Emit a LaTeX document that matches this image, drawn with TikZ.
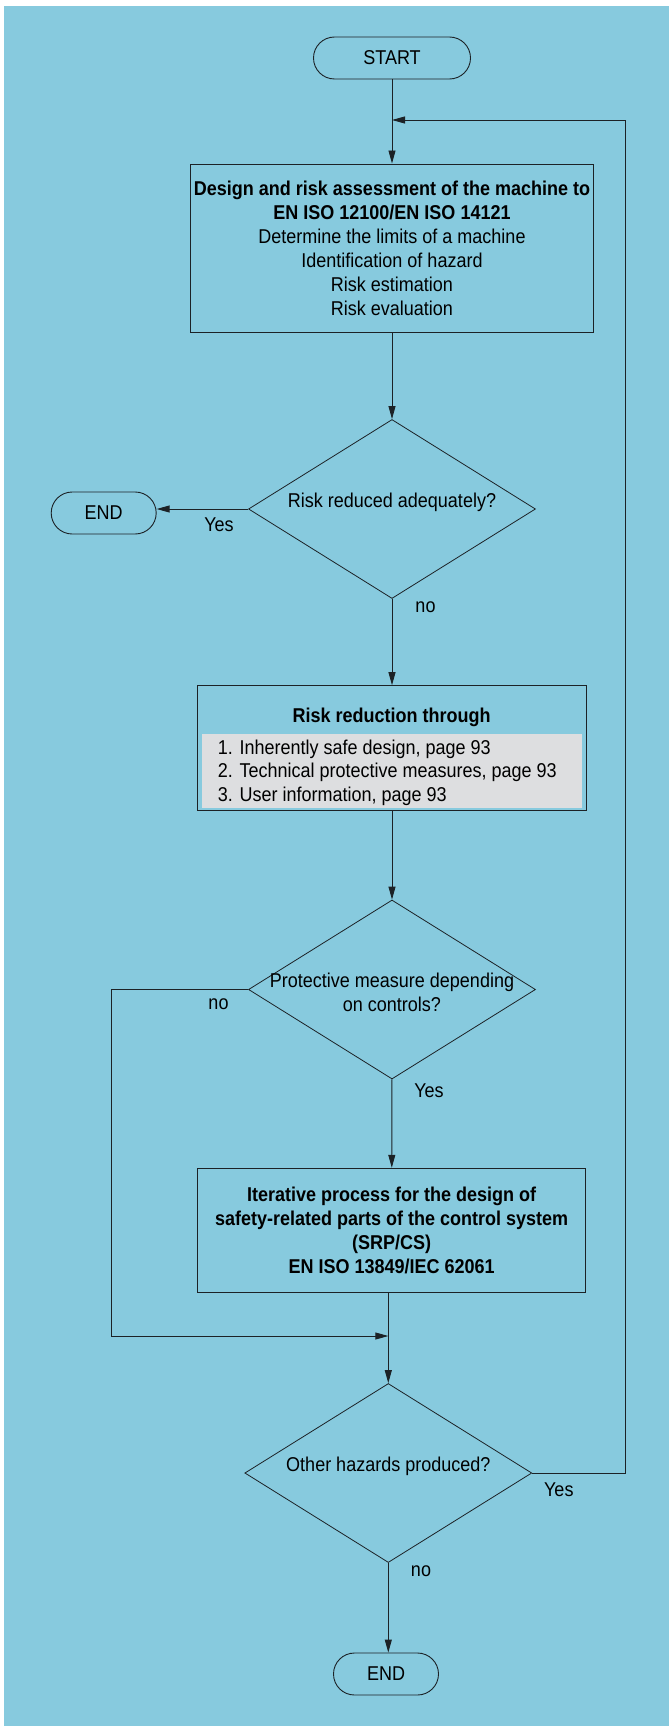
\documentclass[tikz,border=0pt]{standalone}
\usepackage{fontspec}
\setmainfont[FakeStretch=0.9]{Liberation Sans}
\usetikzlibrary{shapes.geometric,arrows.meta}

\definecolor{panelblue}{RGB}{135,202,222}
\definecolor{panelgrey}{RGB}{221,222,224}
\definecolor{linegrey}{RGB}{28,34,38}

\begin{document}
\begin{tikzpicture}[
		x=1pt, y=-1pt,
		txt/.style={font=\fontsize{20}{24}\selectfont},
		terminal/.style={txt, draw=linegrey, line width=0.9pt, rounded corners=21pt, minimum width=105pt, minimum height=42pt, inner sep=0pt},
		stepbox/.style={txt, draw=linegrey, line width=1.1pt, align=center, inner sep=1pt},
		decision/.style={diamond, draw=linegrey, line width=0.8pt, minimum width=287pt, minimum height=179pt, inner sep=0pt},
		qtext/.style={txt, align=center, inner sep=0pt},
		elabel/.style={txt, inner sep=0pt},
		flow/.style={draw=linegrey, line width=0.9pt, -{Triangle[length=13pt, width=7pt]}},
	]
	\useasboundingbox (0,0) rectangle (669,1726);
	\fill[panelblue] (4,6) rectangle (669,1726);

	\node[terminal, minimum width=157pt] (start) at (392,58) {START};
	\node[stepbox, minimum width=403.6pt, minimum height=168.3pt] (assess) at (392,248.2)
		{\textbf{Design and risk assessment of the machine to}\\
		 \textbf{EN ISO 12100/EN ISO 14121}\\
		 Determine the limits of a machine\\
		 Identification of hazard\\
		 Risk estimation\\
		 Risk evaluation};

	\node[decision] (q1) at (392,509) {};
	\node[qtext] (q1t) at (392,502) {Risk reduced adequately?};
	\node[terminal] (end1) at (103.7,513) {END};

	% risk reduction box with grey list panel
	\node[stepbox, minimum width=388.6pt, minimum height=124.3pt] (reduce) at (392,747.9) {};
	\node[fill=panelgrey, minimum width=380pt, minimum height=73.7pt, inner sep=0pt] (measures) at (392,770.8) {};
	\node[txt, inner sep=0pt] (reducet) at (391.7,717.3) {\textbf{Risk reduction through}};
	\node[txt, font=\fontsize{20}{23.3}\selectfont, align=left, anchor=west, inner sep=0pt] (mlist) at (217.7,772.7)
		{1. Inherently safe design, page 93\\
		 2. Technical protective measures, page 93\\
		 3. User information, page 93};

	\node[decision] (q2) at (392,989.5) {};
	\node[qtext] (q2t) at (392,992) {Protective measure depending\\on controls?};

	\node[stepbox, minimum width=388.3pt, minimum height=124.4pt] (srpcs) at (391.7,1230.5)
		{\textbf{Iterative process for the design of}\\
		 \textbf{safety-related parts of the control system}\\
		 \textbf{(SRP/CS)}\\
		 \textbf{EN ISO 13849/IEC 62061}};

	\node[decision] (q3) at (388.3,1473) {};
	\node[qtext] (q3t) at (388.3,1466) {Other hazards produced?};
	\node[terminal] (end2) at (386,1674) {END};

	\coordinate (loop) at (392,120);
	\coordinate (bypass) at (111.4,989.5);
	\coordinate (merge) at (388.3,1336);
	\coordinate (back) at (625,1473);

	\draw[flow] (start) -- (assess);
	\draw[flow] (assess) -- (q1);
	\draw[flow] (q1.west) -- (q1.west -| end1.east);
	\draw[flow] (q1) -- (reduce);
	\draw[flow] (reduce) -- (q2);
	\draw[flow] (q2) -- (srpcs);
	\draw[flow] (q2.west) -- (bypass) |- (merge);
	\draw[flow] (srpcs.south -| q3.north) -- (q3.north);
	\draw[flow] (q3.south) -- (q3.south |- end2.north);
	\draw[flow] (q3.east) -- (back) |- (loop);

	\node[elabel] (yes1) at (219,525) {Yes};
	\node[elabel] (no1) at (425.5,607.7) {no};
	\node[elabel] (no2) at (218.5,1004) {no};
	\node[elabel] (yes2) at (429,1090.7) {Yes};
	\node[elabel] (yes3) at (558.8,1490) {Yes};
	\node[elabel] (no3) at (421,1570.7) {no};
\end{tikzpicture}
\end{document}
